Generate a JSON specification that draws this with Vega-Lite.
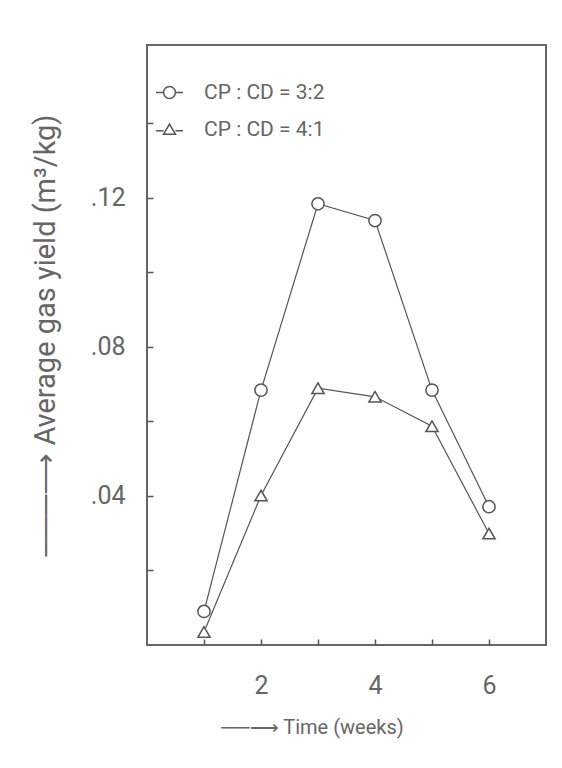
{
  "$schema": "https://vega.github.io/schema/vega-lite/v6.json",
  "width": 399,
  "height": 600,
  "autosize": {"type": "none"},
  "padding": {"left": 147, "top": 45, "right": 16, "bottom": 123},
  "background": "white",
  "config": {
    "view": {"stroke": "#666", "strokeWidth": 2},
    "font": "Roboto",
    "axis": {
      "grid": false,
      "domain": false,
      "tickColor": "#555",
      "tickWidth": 1.5,
      "labelColor": "#666",
      "titleColor": "#666",
      "labelFont": "Roboto",
      "titleFont": "Roboto",
      "titleFontWeight": "normal"
    },
    "legend": {"labelFont": "Roboto"}
  },
  "data": {
    "values": [
      {"week": 1, "yield": 0.009, "series": "CP : CD = 3:2"},
      {"week": 2, "yield": 0.0684, "series": "CP : CD = 3:2"},
      {"week": 3, "yield": 0.1184, "series": "CP : CD = 3:2"},
      {"week": 4, "yield": 0.1139, "series": "CP : CD = 3:2"},
      {"week": 5, "yield": 0.0684, "series": "CP : CD = 3:2"},
      {"week": 6, "yield": 0.0371, "series": "CP : CD = 3:2"},
      {"week": 1, "yield": 0.0035, "series": "CP : CD = 4:1"},
      {"week": 2, "yield": 0.0401, "series": "CP : CD = 4:1"},
      {"week": 3, "yield": 0.0689, "series": "CP : CD = 4:1"},
      {"week": 4, "yield": 0.0666, "series": "CP : CD = 4:1"},
      {"week": 5, "yield": 0.0587, "series": "CP : CD = 4:1"},
      {"week": 6, "yield": 0.0299, "series": "CP : CD = 4:1"}
    ]
  },
  "encoding": {
    "x": {
      "field": "week",
      "type": "quantitative",
      "scale": {"domain": [0, 7], "nice": false},
      "axis": {
        "values": [1, 2, 3, 4, 5, 6],
        "labelExpr": "datum.value % 2 == 0 ? datum.value : ''",
        "tickSize": -6,
        "labelFontSize": 25,
        "labelPadding": 34,
        "title": "──⟶  Time (weeks)",
        "titleFontSize": 20,
        "titlePadding": 19,
        "titleX": 165
      }
    },
    "y": {
      "field": "yield",
      "type": "quantitative",
      "scale": {"domain": [0, 0.161], "nice": false},
      "axis": {
        "values": [0.02, 0.04, 0.06, 0.08, 0.1, 0.12, 0.14],
        "labelExpr": "indexof(['0.04','0.08','0.12'], format(datum.value, '.2f')) >= 0 ? replace(format(datum.value, '.2f'), '0.', '.') : ''",
        "tickSize": -6,
        "labelFontSize": 25,
        "labelPadding": 28,
        "title": "───⟶   Average gas yield (m³/kg)",
        "titleFontSize": 29,
        "titlePadding": 30,
        "titleY": 290
      }
    }
  },
  "layer": [
    {
      "mark": {"type": "line", "color": "#555", "strokeWidth": 1.2},
      "encoding": {"detail": {"field": "series"}}
    },
    {
      "mark": {"type": "point", "filled": true, "fill": "white", "stroke": "#555", "strokeWidth": 1.5, "opacity": 1, "size": 150},
      "encoding": {
        "shape": {
          "field": "series",
          "type": "nominal",
          "scale": {"domain": ["CP : CD = 3:2", "CP : CD = 4:1"], "range": ["circle", "triangle-up"]},
          "legend": null
        }
      }
    },
    {
      "mark": {"type": "point", "filled": true, "fill": "white", "stroke": "#555", "strokeWidth": 1.5, "opacity": 0},
      "encoding": {
        "shape": {
          "field": "series",
          "type": "nominal",
          "scale": {
            "domain": ["CP : CD = 3:2", "CP : CD = 4:1"],
            "range": [
              "M-1,0H-0.44M0.44,0H1M0.44,0A0.44,0.44,0,1,1,-0.44,0A0.44,0.44,0,1,1,0.44,0",
              "M-1,0.1H-0.44M0.44,0.1H1M0,-0.4L0.44,0.36L-0.44,0.36Z"
            ]
          },
          "legend": {
            "orient": "none",
            "legendX": 8,
            "legendY": 33,
            "title": null,
            "labelFontSize": 21,
            "labelColor": "#666",
            "symbolSize": 729,
            "symbolOpacity": 1,
            "labelOffset": 20,
            "rowPadding": 12,
            "encode": {
              "symbols": {
                "update": {
                  "fill": {"value": "white"},
                  "stroke": {"value": "#555"},
                  "strokeWidth": {"value": 1.5},
                  "opacity": {"value": 1}
                }
              }
            }
          }
        }
      }
    }
  ],
  "resolve": {"scale": {"shape": "independent"}, "legend": {"shape": "independent"}}
}
